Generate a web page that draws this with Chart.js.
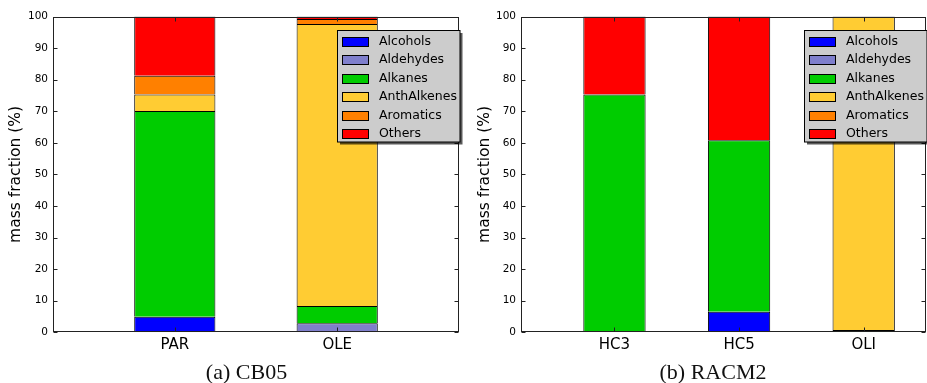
<!DOCTYPE html>
<html>
<head>
<meta charset="utf-8">
<script src="https://cdn.jsdelivr.net/npm/chart.js@4.4.1/dist/chart.umd.min.js"></script>
<style>
  html, body { margin: 0; padding: 0; background: #fff; width: 927px; height: 383px; overflow: hidden; }
  canvas { position: absolute; top: 0; }
  #cb05 { left: 0; }
  #racm2 { left: 465px; }
  .cap { position: absolute; top: 359px; font-family: "Liberation Serif", serif; font-size: 22px; line-height: 26px;
         color: #111; transform: translateX(-50%); white-space: nowrap; }
</style>
</head>
<body>
<canvas id="cb05" width="465" height="383"></canvas>
<canvas id="racm2" width="462" height="383"></canvas>
<div class="cap" style="left:246.5px">(a) CB05</div>
<div class="cap" style="left:713px">(b) RACM2</div>
<script>
// Compound groups shared by both mechanisms
const groupNames  = ['Alcohols', 'Aldehydes', 'Alkanes', 'AnthAlkenes', 'Aromatics', 'Others'];
const groupColors = ['#0000ff', '#7f7fcc', '#00cc00', '#ffcc33', '#ff8000', '#ff0000'];
const yTickValues = [0, 10, 20, 30, 40, 50, 60, 70, 80, 90, 100];

// CB05 lumped species, mass fraction (%) per compound group
const cb05Species     = ['PAR', 'OLE'];
const cb05Alcohols    = [4.9, 0];
const cb05Aldehydes   = [0, 2.9];
const cb05Alkanes     = [65.2, 5.4];
const cb05AnthAlkenes = [5.2, 89.3];
const cb05Aromatics   = [5.9, 1.6];
const cb05Others      = [18.8, 0.8];

// RACM2 lumped species, mass fraction (%) per compound group
const racm2Species     = ['HC3', 'HC5', 'OLI'];
const racm2Alcohols    = [0, 6.5, 0];
const racm2Aldehydes   = [0, 0, 0];
const racm2Alkanes     = [75.3, 54.3, 0.7];
const racm2AnthAlkenes = [0, 0, 99.3];
const racm2Aromatics   = [0, 0, 0];
const racm2Others      = [24.7, 39.2, 0];

// Frame with inward ticks on all four sides, plus a boxed legend with a drop shadow
const frameAndLegend = {
  id: 'frameAndLegend',
  afterDatasetsDraw(chart) {
    const { ctx, chartArea: a, scales } = chart;
    ctx.save();
    ctx.strokeStyle = '#222';
    ctx.lineWidth = 1;
    const L = Math.round(a.left) + 0.5, R = Math.round(a.right) - 0.5;
    const T = Math.round(a.top) + 0.5, B = Math.round(a.bottom) - 0.5;
    ctx.strokeRect(L, T, R - L, B - T);
    ctx.beginPath();
    scales.y.ticks.forEach(t => {
      const y = Math.round(scales.y.getPixelForValue(t.value)) + 0.5;
      ctx.moveTo(L, y); ctx.lineTo(L + 4, y);
      ctx.moveTo(R, y); ctx.lineTo(R - 4, y);
    });
    scales.x.ticks.forEach(t => {
      const x = Math.round(scales.x.getPixelForValue(t.value)) + 0.5;
      ctx.moveTo(x, B); ctx.lineTo(x, B - 4);
      ctx.moveTo(x, T); ctx.lineTo(x, T + 4);
    });
    ctx.stroke();

    // legend
    const w = 122.5, h = 111.5;
    const bx = Math.round(a.right - w) + 0.5;
    const by = Math.round(a.top + 13.5) + 0.5;
    ctx.fillStyle = 'rgba(0,0,0,0.65)';
    ctx.fillRect(bx + 2.5, by + 2.5, w, h);
    ctx.fillStyle = '#cccccc';
    ctx.fillRect(bx, by, w, h);
    ctx.strokeStyle = '#000';
    ctx.strokeRect(bx, by, w, h);
    ctx.font = '12.5px "DejaVu Sans"';
    ctx.textBaseline = 'middle';
    ctx.textAlign = 'left';
    chart.data.datasets.forEach((ds, i) => {
      const cy = by + 10.5 + i * 18.5;
      const sx = bx + 5, sy = Math.round(cy - 4.5) + 0.5;
      ctx.fillStyle = ds.backgroundColor;
      ctx.fillRect(sx, sy, 26, 9);
      ctx.strokeStyle = '#000';
      ctx.strokeRect(sx, sy, 26, 9);
      ctx.fillStyle = '#000';
      ctx.fillText(ds.label, bx + 41.5, cy + 0.5);
    });
    ctx.restore();
  }
};

function makeChart(canvasId, species, series, xMax, yAxisWidth, rightPad, titleOffset) {
  const datasets = series.map((vals, k) => ({
    label: groupNames[k],
    data: vals.map((v, i) => ({ x: i, y: v === 0 ? null : v })),
    backgroundColor: groupColors[k],
    borderColor: '#000',
    borderWidth: 1,
    barPercentage: 0.5,
    categoryPercentage: 1.0
  }));
  return new Chart(document.getElementById(canvasId), {
    type: 'bar',
    data: { datasets },
    plugins: [frameAndLegend],
    options: {
      responsive: false,
      animation: false,
      layout: { padding: { top: 16.5, right: rightPad, bottom: 0, left: 0 } },
      plugins: { legend: { display: false }, tooltip: { enabled: false } },
      scales: {
        x: {
          type: 'linear',
          stacked: true,
          offset: false,
          bounds: 'data',
          min: -0.75,
          max: xMax,
          grid: { display: false, drawTicks: false, offset: false },
          border: { display: false },
          afterBuildTicks: s => { s.ticks = species.map((_, i) => ({ value: i })); },
          afterFit: s => { s.height = 50.7; },
          ticks: {
            color: '#000',
            font: { family: 'DejaVu Sans', size: 15 },
            padding: 4,
            maxRotation: 0,
            callback: v => species[v] ?? ''
          }
        },
        y: {
          stacked: true,
          min: 0,
          max: 100,
          grid: { display: false, drawTicks: false },
          border: { display: false },
          afterBuildTicks: s => { s.ticks = yTickValues.map(v => ({ value: v })); },
          afterFit: s => { s.width = yAxisWidth; },
          ticks: {
            color: '#000',
            font: { family: 'DejaVu Sans', size: 10.5 },
            padding: 5
          },
          title: {
            display: true,
            text: 'mass fraction (%)',
            color: '#000',
            font: { family: 'DejaVu Sans', size: 15.5 },
            padding: { top: titleOffset, bottom: 0 }
          }
        }
      }
    }
  });
}

makeChart('cb05', cb05Species,
  [cb05Alcohols, cb05Aldehydes, cb05Alkanes, cb05AnthAlkenes, cb05Aromatics, cb05Others],
  1.75, 53, 6, 6.7);
makeChart('racm2', racm2Species,
  [racm2Alcohols, racm2Aldehydes, racm2Alkanes, racm2AnthAlkenes, racm2Aromatics, racm2Others],
  2.5, 56, 1, 10.7);
</script>
</body>
</html>
